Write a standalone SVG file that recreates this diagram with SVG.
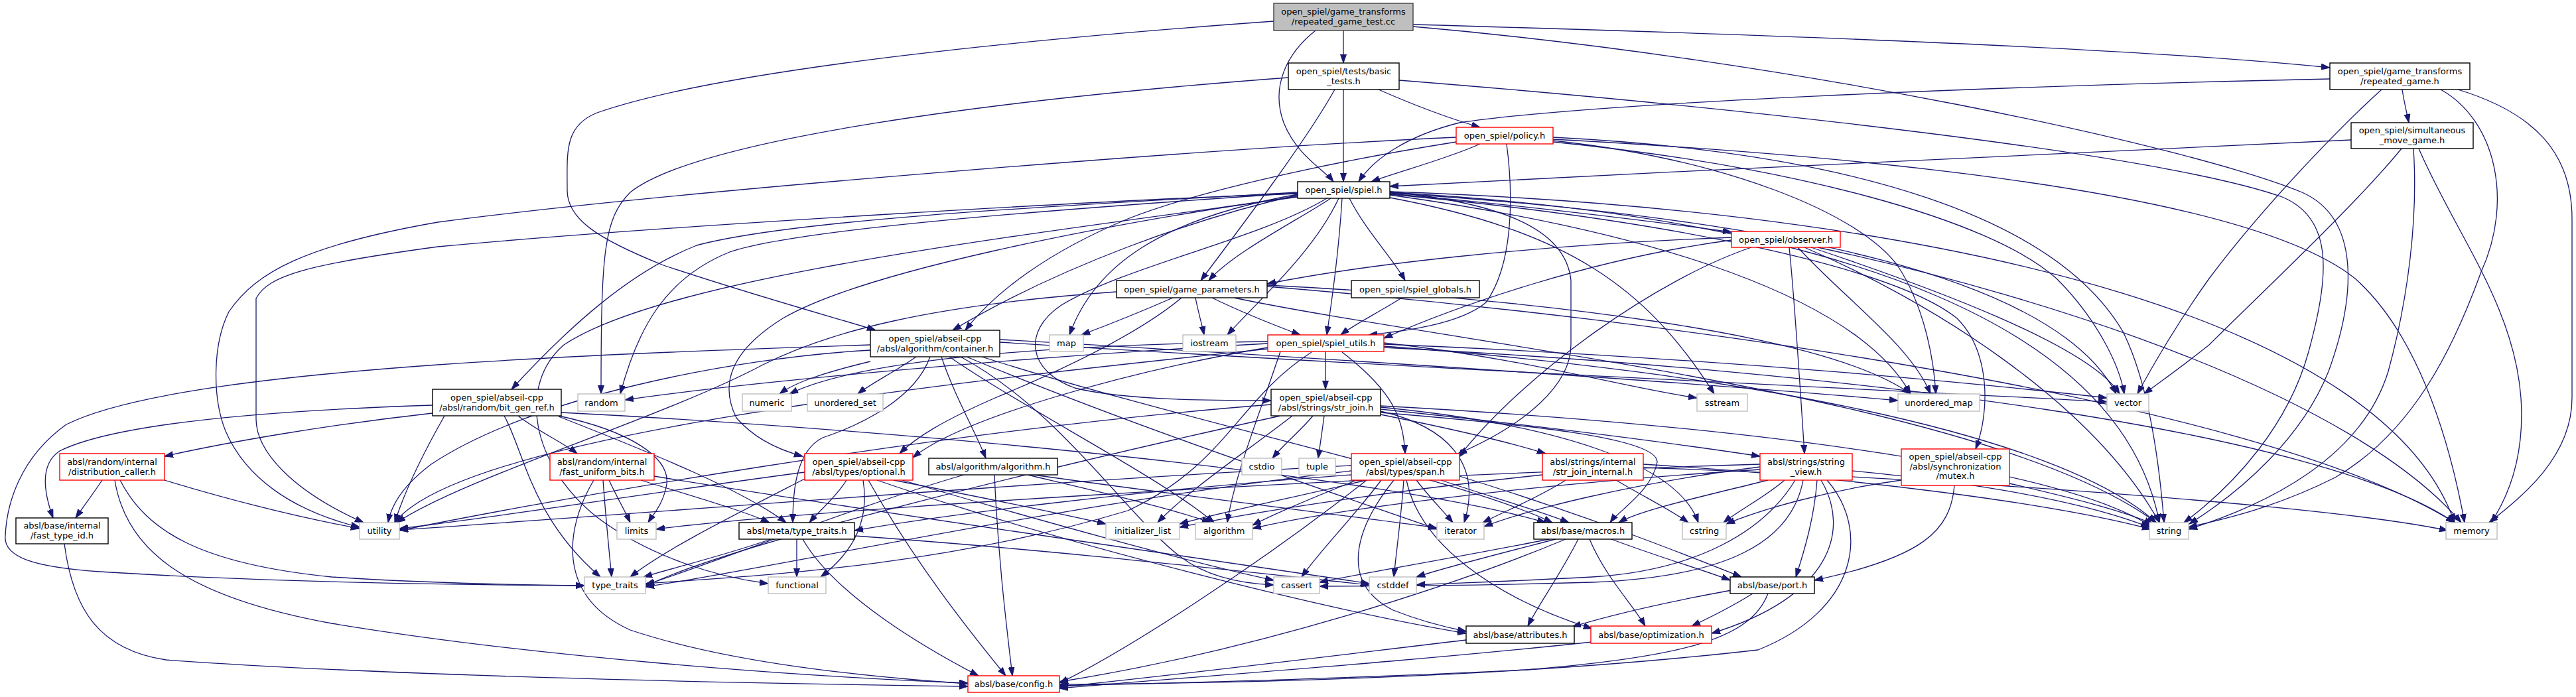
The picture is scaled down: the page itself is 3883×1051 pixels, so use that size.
<svg xmlns="http://www.w3.org/2000/svg" width="3883" height="1051" viewBox="0 0 3883 1051">
<defs>
<marker id="a" markerUnits="userSpaceOnUse" markerWidth="14" markerHeight="11" refX="13" refY="5" orient="auto"><path d="M0,0.5 L13,5 L0,9.5 z" fill="#191970" stroke="#191970" stroke-width="1"/></marker>
<style>
.node rect{fill:#fff;stroke:#000;stroke-width:1.4}
.node rect.r{stroke:#ff0000}
.node rect.g{stroke:#bfbfbf}
.node rect.root{fill:#bfbfbf;stroke:#404040}
.node text{font-family:"DejaVu Sans","Liberation Sans",sans-serif;font-size:13px;text-anchor:middle;fill:#000}
#edges path{fill:none;stroke:#191970;stroke-width:1.3;marker-end:url(#a)}
</style>
</defs>
<rect width="3883" height="1051" fill="#fff"/>
<g id="edges">
<path d="M2025,46 L2025,95"/>
<path d="M1983,46 C1940,80 1915,130 1935,185 C1955,235 1995,255 2010,274"/>
<path d="M2130,37 C2600,50 3200,70 3512,102"/>
<path d="M1920,32 C1600,55 1100,100 900,170 C850,190 855,230 855,287 C855,330 900,360 1000,400 C1150,450 1280,485 1320,498"/>
<path d="M2130,40 C2700,90 3300,220 3470,290 C3560,330 3550,450 3510,560 C3470,660 3380,740 3300,790"/>
<path d="M1942,117 C1500,150 1050,210 950,290 C910,330 906,380 906,594"/>
<path d="M2025,135 L2025,274"/>
<path d="M2078,135 C2130,158 2190,180 2231,192"/>
<path d="M2012,135 C1970,210 1880,330 1810,423"/>
<path d="M2109,121 C2600,160 3250,230 3440,297 C3520,330 3510,420 3480,530 C3450,640 3370,730 3292,788"/>
<path d="M3621,135 C3624,155 3628,170 3631,185"/>
<path d="M3512,119 C3000,130 2400,155 2200,185 C2120,205 2070,240 2048,274"/>
<path d="M3590,135 C3540,180 3420,300 3330,420 C3280,490 3240,560 3222,594"/>
<path d="M3679,135 C3760,180 3790,300 3740,410 C3700,520 3640,650 3520,720 C3420,770 3340,785 3299,795"/>
<path d="M3705,135 C3820,170 3877,230 3877,330 L3877,600 C3877,690 3800,750 3752,788"/>
<path d="M3544,211 C3200,225 2600,255 2095,281"/>
<path d="M3620,224 C3550,310 3400,450 3330,520 C3280,560 3250,580 3232,594"/>
<path d="M3638,224 C3645,330 3630,450 3600,560 C3560,690 3420,760 3299,798"/>
<path d="M3646,224 C3700,350 3790,460 3800,600 C3806,690 3780,750 3755,788"/>
<path d="M2231,217 C2180,240 2110,258 2067,274"/>
<path d="M2271,217 C2282,300 2280,400 2240,456 C2200,490 2110,500 2063,505"/>
<path d="M2195,207 C1800,225 1000,290 660,335 C460,370 386,410 345,470 C320,520 320,600 340,650 C370,720 440,770 542,795"/>
<path d="M2195,214 C2000,245 1800,290 1700,330 C1580,380 1500,440 1455,498"/>
<path d="M2341,207 C2800,230 3100,330 3200,500 C3240,580 3255,700 3262,788"/>
<path d="M2341,210 C2900,240 3400,300 3550,420 C3640,500 3690,650 3715,788"/>
<path d="M2341,212 C2600,240 2800,320 2860,400 C2900,460 2915,540 2918,594"/>
<path d="M2341,214 C2700,250 3000,330 3100,420 C3160,480 3195,550 3202,594"/>
<path d="M2006,299 C1960,330 1860,380 1822,423"/>
<path d="M1956,294 C1800,330 1600,400 1436,498"/>
<path d="M1956,290 C1600,310 1200,330 1050,370 C950,410 860,490 771,587"/>
<path d="M1956,291 C1600,315 1200,345 1100,380 C1000,420 960,500 935,594"/>
<path d="M1956,292 C1700,300 1000,340 660,372 C460,399 404,416 386,450 L386,632 C386,680 440,740 548,788"/>
<path d="M2034,299 C2060,350 2100,390 2118,423"/>
<path d="M2023,299 C2018,380 2008,450 2000,505"/>
<path d="M2095,292 C2300,310 2500,335 2610,350"/>
<path d="M2000,299 C1900,360 1700,400 1600,460 C1540,500 1550,560 1620,585 C1700,605 1850,604 1916,604"/>
<path d="M2095,289 C2250,305 2360,340 2368,423 L2368,520 C2368,580 2300,640 2198,684"/>
<path d="M2095,293 C2500,330 2850,400 2950,480 C3000,530 3000,620 2978,677"/>
<path d="M1956,296 C1650,340 1300,410 1180,480 C1100,530 1085,580 1110,630 C1140,665 1180,680 1210,688"/>
<path d="M1956,293 C1750,330 1650,400 1612,505"/>
<path d="M2018,299 C1980,380 1900,450 1850,505"/>
<path d="M2095,298 C2360,348 2480,430 2584,594"/>
<path d="M2095,294 C2500,350 2800,450 2880,594"/>
<path d="M2095,291 C2700,330 3100,420 3190,594"/>
<path d="M2095,290 C2800,330 3200,500 3255,788"/>
<path d="M2095,289 C3000,320 3600,500 3700,788"/>
<path d="M1956,297 C1500,360 1000,420 850,520 C780,580 800,700 900,780 C980,840 1080,870 1158,880"/>
<path d="M2610,358 C2300,370 2050,400 1910,428"/>
<path d="M2610,362 C2400,390 2200,460 2086,510"/>
<path d="M2640,373 C2500,420 2300,560 2198,690"/>
<path d="M2697,373 C2705,450 2712,560 2720,684"/>
<path d="M2720,373 C2900,450 3150,600 3255,788"/>
<path d="M2740,373 C3100,450 3550,600 3710,788"/>
<path d="M2710,373 C2780,450 2880,520 2910,594"/>
<path d="M2730,373 C2900,430 3150,520 3195,594"/>
<path d="M1768,449 C1720,470 1670,490 1630,505"/>
<path d="M1802,449 C1806,470 1812,490 1815,505"/>
<path d="M1827,449 C1870,470 1920,490 1960,505"/>
<path d="M1781,449 C1720,500 1620,550 1500,600 C1420,635 1380,660 1356,684"/>
<path d="M1860,449 C2200,520 3000,600 3250,788"/>
<path d="M1910,432 C2500,480 3400,600 3700,788"/>
<path d="M1910,430 C2300,450 2750,500 2880,594"/>
<path d="M1683,440 C1400,460 1250,500 1150,550 C1000,630 700,720 598,788"/>
<path d="M2113,449 C2080,470 2040,490 2021,505"/>
<path d="M1419,538 C1440,600 1470,650 1486,691"/>
<path d="M1381,538 C1350,560 1310,580 1293,594"/>
<path d="M1312,545 C1250,560 1200,575 1175,594"/>
<path d="M1312,528 C1100,540 800,600 650,700 C610,730 590,760 585,788"/>
<path d="M1402,538 C1380,600 1300,640 1240,660 C1200,680 1195,740 1195,788"/>
<path d="M1312,520 C1000,530 800,540 660,550 C450,565 200,590 100,640 C30,690 10,760 8,808 C5,840 50,855 150,862 C400,878 700,882 881,883"/>
<path d="M1431,538 C1550,620 1750,720 1830,788"/>
<path d="M1448,538 C1600,620 1700,780 1780,840 C1820,870 1870,880 1920,882"/>
<path d="M1457,538 C1700,640 2000,740 2166,798"/>
<path d="M1480,538 C1800,640 2200,720 2340,788"/>
<path d="M1507,512 C2000,540 2600,580 2861,604"/>
<path d="M1507,516 C2200,560 2900,590 3176,606"/>
<path d="M1998,530 L1998,587"/>
<path d="M2023,531 C2100,590 2115,630 2118,684"/>
<path d="M1911,524 C1700,560 1450,630 1376,690"/>
<path d="M1911,518 C1500,540 1100,580 942,603"/>
<path d="M2086,517 C2300,540 2450,585 2558,600"/>
<path d="M1911,526 C1500,570 700,650 595,788"/>
<path d="M1977,531 C1865,603 1850,700 1700,770 C1400,860 1100,870 973,880"/>
<path d="M1930,530 C1900,620 1860,720 1850,788"/>
<path d="M2086,522 C2600,560 3100,650 3250,788"/>
<path d="M2086,524 C2800,560 3500,650 3700,788"/>
<path d="M2086,519 C2600,540 3000,580 3176,600"/>
<path d="M1911,515 C1600,520 1300,540 1190,594"/>
<path d="M1979,627 C1960,650 1935,670 1918,691"/>
<path d="M1996,627 C1993,650 1990,670 1987,691"/>
<path d="M2081,625 C2180,645 2270,665 2330,684"/>
<path d="M2081,617 C2300,640 2500,665 2653,688"/>
<path d="M1948,627 C1880,680 1790,740 1745,788"/>
<path d="M2081,620 C2182,643 2235,700 2207,788"/>
<path d="M2081,622 C2300,640 2500,660 2498,697 C2490,740 2440,770 2427,788"/>
<path d="M2081,614 C2350,640 2530,700 2560,788"/>
<path d="M2081,612 C2600,640 3100,700 3245,795"/>
<path d="M1930,627 C1600,700 1100,820 973,884"/>
<path d="M1916,610 C1400,650 800,760 602,800"/>
<path d="M652,623 C500,640 350,665 248,688"/>
<path d="M652,611 C380,620 170,640 90,680 C60,700 65,740 80,781"/>
<path d="M781,627 C810,650 850,668 870,684"/>
<path d="M842,627 C950,650 1010,690 1005,730 C1000,760 985,775 977,788"/>
<path d="M842,628 C1000,690 1120,740 1185,788"/>
<path d="M760,627 C790,680 800,780 905,870"/>
<path d="M670,627 C640,680 610,740 595,788"/>
<path d="M846,622 C1400,650 2100,720 2330,788"/>
<path d="M154,724 C140,745 125,765 114,781"/>
<path d="M248,724 C350,755 450,780 542,797"/>
<path d="M181,724 C220,800 300,850 500,870 C650,880 780,882 881,883"/>
<path d="M173,724 C190,830 280,900 500,940 C800,990 1200,1020 1459,1030"/>
<path d="M918,724 C930,750 942,770 950,788"/>
<path d="M909,724 C913,780 918,830 922,870"/>
<path d="M966,724 C1050,750 1120,770 1160,788"/>
<path d="M895,724 C850,800 840,900 950,950 C1100,1000 1300,1020 1459,1031"/>
<path d="M986,718 C1300,770 1800,840 2064,880"/>
<path d="M1276,724 C1260,750 1235,770 1220,788"/>
<path d="M1213,722 C1100,780 1000,830 950,870"/>
<path d="M1301,724 C1310,780 1290,830 1237,870"/>
<path d="M1213,712 C1000,740 750,780 602,797"/>
<path d="M1347,724 C1480,750 1600,775 1667,790"/>
<path d="M1360,724 C1550,780 1800,850 1920,875"/>
<path d="M1322,724 C1600,820 2000,920 2210,955"/>
<path d="M1309,724 C1380,850 1460,950 1516,1019"/>
<path d="M1549,716 C1650,740 1760,765 1825,788"/>
<path d="M1558,716 C1800,750 2050,780 2166,796"/>
<path d="M1499,716 C1505,850 1518,950 1526,1019"/>
<path d="M1453,716 C1300,760 1100,840 973,882"/>
<path d="M2135,724 C2155,750 2175,770 2190,788"/>
<path d="M2172,724 C2250,750 2320,770 2365,788"/>
<path d="M2082,724 C2040,780 1990,830 1962,870"/>
<path d="M2116,724 C2112,780 2105,830 2101,870"/>
<path d="M2101,724 C2040,800 2020,880 2100,920 C2150,940 2190,948 2210,952"/>
<path d="M2120,724 C2140,820 2250,900 2400,948"/>
<path d="M2037,702 C1500,730 900,780 602,799"/>
<path d="M2037,710 C1600,760 1200,850 973,885"/>
<path d="M2060,724 C1950,750 1830,775 1778,790"/>
<path d="M2045,724 C1980,750 1920,775 1888,792"/>
<path d="M2037,716 C1700,740 1400,780 1288,800"/>
<path d="M2200,718 C2400,780 2550,840 2625,870"/>
<path d="M2060,724 C1900,850 1700,980 1597,1030"/>
<path d="M2360,724 C2320,750 2270,770 2235,788"/>
<path d="M2436,724 C2480,750 2520,770 2545,788"/>
<path d="M2477,700 C2800,720 3100,760 3242,798"/>
<path d="M2477,705 C2900,720 3500,760 3690,800"/>
<path d="M2325,716 C2100,740 1900,770 1778,795"/>
<path d="M2690,724 C2660,750 2620,770 2598,788"/>
<path d="M2739,724 C2735,780 2720,830 2707,870"/>
<path d="M2745,724 C2790,800 2760,900 2580,955"/>
<path d="M2754,724 C2820,800 2800,920 2650,980 C2300,1020 1900,1030 1597,1032"/>
<path d="M2665,724 C2560,750 2470,770 2440,788"/>
<path d="M2653,704 C2450,730 2300,770 2237,794"/>
<path d="M2792,710 C3000,730 3150,760 3240,795"/>
<path d="M2718,724 C2700,820 2600,870 2400,878 C2200,884 2050,884 1989,884"/>
<path d="M2706,724 C2660,800 2560,860 2400,870 C2250,878 2170,880 2135,882"/>
<path d="M2653,700 C2000,720 1200,770 989,798"/>
<path d="M2653,708 C2300,730 2000,770 1888,797"/>
<path d="M2946,732 C2940,800 2900,840 2735,875"/>
<path d="M3029,729 C3120,750 3200,770 3245,790"/>
<path d="M2866,724 C2750,740 2650,770 2602,790"/>
<path d="M97,820 C110,920 150,980 250,995 C600,1020 1100,1030 1459,1035"/>
<path d="M1162,813 C1100,835 1020,855 970,870"/>
<path d="M1201,813 L1201,870"/>
<path d="M1210,813 C1260,900 1400,980 1475,1019"/>
<path d="M1288,808 C1600,830 1900,865 2064,882"/>
<path d="M2335,813 C2200,840 2050,865 1989,878"/>
<path d="M2345,813 C2260,835 2180,855 2135,870"/>
<path d="M2360,813 C2200,880 1900,980 1597,1028"/>
<path d="M2379,813 C2350,870 2320,910 2303,944"/>
<path d="M2396,813 C2420,870 2460,910 2480,944"/>
<path d="M2429,813 C2500,840 2570,860 2608,875"/>
<path d="M2610,890 C2500,910 2420,930 2370,945"/>
<path d="M2642,895 C2610,915 2580,930 2550,944"/>
<path d="M2665,895 C2640,960 2550,990 2300,1010 C2000,1025 1750,1030 1597,1034"/>
<path d="M2210,965 C2000,990 1800,1015 1597,1036"/>
<path d="M2400,968 C2100,1000 1800,1020 1597,1038"/>
</g>
<g id="n1" class="node"><rect class="root" x="1920" y="5" width="210" height="41"/><text x="2025" y="22">open_spiel/game_transforms</text><text x="2025" y="37">/repeated_game_test.cc</text></g>
<g id="n2" class="node"><rect x="1942" y="95" width="167" height="40"/><text x="2025.5" y="111.5">open_spiel/tests/basic</text><text x="2025.5" y="126.5">_tests.h</text></g>
<g id="n3" class="node"><rect x="3512" y="95" width="211" height="40"/><text x="3617.5" y="111.5">open_spiel/game_transforms</text><text x="3617.5" y="126.5">/repeated_game.h</text></g>
<g id="n4" class="node"><rect class="r" x="2195" y="192" width="146" height="25"/><text x="2268" y="209">open_spiel/policy.h</text></g>
<g id="n5" class="node"><rect x="3544" y="185" width="184" height="39"/><text x="3636" y="201">open_spiel/simultaneous</text><text x="3636" y="216">_move_game.h</text></g>
<g id="n6" class="node"><rect x="1956" y="274" width="139" height="25"/><text x="2025.5" y="291">open_spiel/spiel.h</text></g>
<g id="n7" class="node"><rect class="r" x="2610" y="349" width="164" height="24"/><text x="2692" y="365.5">open_spiel/observer.h</text></g>
<g id="n8" class="node"><rect x="1683" y="423" width="227" height="26"/><text x="1796.5" y="440.5">open_spiel/game_parameters.h</text></g>
<g id="n9" class="node"><rect x="2037" y="423" width="193" height="26"/><text x="2133.5" y="440.5">open_spiel/spiel_globals.h</text></g>
<g id="n10" class="node"><rect x="1312" y="498" width="195" height="40"/><text x="1409.5" y="514.5">open_spiel/abseil-cpp</text><text x="1409.5" y="529.5">/absl/algorithm/container.h</text></g>
<g id="n11" class="node"><rect class="r" x="1911" y="505" width="175" height="25"/><text x="1998.5" y="522">open_spiel/spiel_utils.h</text></g>
<g id="n12" class="node"><rect class="g" x="1582" y="505" width="51" height="25"/><text x="1607.5" y="522">map</text></g>
<g id="n13" class="node"><rect class="g" x="1783" y="505" width="80" height="25"/><text x="1823" y="522">iostream</text></g>
<g id="n14" class="node"><rect x="652" y="587" width="194" height="40"/><text x="749" y="603.5">open_spiel/abseil-cpp</text><text x="749" y="618.5">/absl/random/bit_gen_ref.h</text></g>
<g id="n15" class="node"><rect class="g" x="871" y="594" width="71" height="26"/><text x="906.5" y="611.5">random</text></g>
<g id="n16" class="node"><rect class="g" x="1119" y="594" width="74" height="26"/><text x="1156" y="611.5">numeric</text></g>
<g id="n17" class="node"><rect class="g" x="1217" y="594" width="114" height="26"/><text x="1274" y="611.5">unordered_set</text></g>
<g id="n18" class="node"><rect x="1916" y="587" width="165" height="40"/><text x="1998.5" y="603.5">open_spiel/abseil-cpp</text><text x="1998.5" y="618.5">/absl/strings/str_join.h</text></g>
<g id="n19" class="node"><rect class="g" x="2558" y="594" width="76" height="26"/><text x="2596" y="611.5">sstream</text></g>
<g id="n20" class="node"><rect class="g" x="2861" y="594" width="123" height="26"/><text x="2922.5" y="611.5">unordered_map</text></g>
<g id="n21" class="node"><rect class="g" x="3176" y="594" width="63" height="26"/><text x="3207.5" y="611.5">vector</text></g>
<g id="n22" class="node"><rect class="r" x="90" y="684" width="158" height="40"/><text x="169" y="700.5">absl/random/internal</text><text x="169" y="715.5">/distribution_caller.h</text></g>
<g id="n23" class="node"><rect class="r" x="829" y="684" width="157" height="40"/><text x="907.5" y="700.5">absl/random/internal</text><text x="907.5" y="715.5">/fast_uniform_bits.h</text></g>
<g id="n24" class="node"><rect class="r" x="1213" y="684" width="163" height="40"/><text x="1294.5" y="700.5">open_spiel/abseil-cpp</text><text x="1294.5" y="715.5">/absl/types/optional.h</text></g>
<g id="n25" class="node"><rect x="1400" y="691" width="194" height="25"/><text x="1497" y="708">absl/algorithm/algorithm.h</text></g>
<g id="n26" class="node"><rect class="g" x="1872" y="691" width="60" height="25"/><text x="1902" y="708">cstdio</text></g>
<g id="n27" class="node"><rect class="g" x="1958" y="691" width="55" height="25"/><text x="1985.5" y="708">tuple</text></g>
<g id="n28" class="node"><rect class="r" x="2037" y="684" width="163" height="40"/><text x="2118.5" y="700.5">open_spiel/abseil-cpp</text><text x="2118.5" y="715.5">/absl/types/span.h</text></g>
<g id="n29" class="node"><rect class="r" x="2325" y="684" width="152" height="40"/><text x="2401" y="700.5">absl/strings/internal</text><text x="2401" y="715.5">/str_join_internal.h</text></g>
<g id="n30" class="node"><rect class="r" x="2653" y="684" width="139" height="40"/><text x="2722.5" y="700.5">absl/strings/string</text><text x="2722.5" y="715.5">_view.h</text></g>
<g id="n31" class="node"><rect class="r" x="2866" y="677" width="163" height="55"/><text x="2947.5" y="693">open_spiel/abseil-cpp</text><text x="2947.5" y="707.5">/absl/synchronization</text><text x="2947.5" y="722">/mutex.h</text></g>
<g id="n32" class="node"><rect x="24" y="781" width="139" height="39"/><text x="93.5" y="797">absl/base/internal</text><text x="93.5" y="812">/fast_type_id.h</text></g>
<g id="n33" class="node"><rect class="g" x="542" y="788" width="60" height="25"/><text x="572" y="805">utility</text></g>
<g id="n34" class="node"><rect class="g" x="930" y="788" width="59" height="25"/><text x="959.5" y="805">limits</text></g>
<g id="n35" class="node"><rect x="1114" y="788" width="174" height="25"/><text x="1201" y="805">absl/meta/type_traits.h</text></g>
<g id="n36" class="node"><rect class="g" x="1667" y="788" width="111" height="25"/><text x="1722.5" y="805">initializer_list</text></g>
<g id="n37" class="node"><rect class="g" x="1802" y="788" width="86" height="25"/><text x="1845" y="805">algorithm</text></g>
<g id="n38" class="node"><rect class="g" x="2166" y="788" width="71" height="25"/><text x="2201.5" y="805">iterator</text></g>
<g id="n39" class="node"><rect x="2312" y="788" width="148" height="25"/><text x="2386" y="805">absl/base/macros.h</text></g>
<g id="n40" class="node"><rect class="g" x="2536" y="788" width="66" height="25"/><text x="2569" y="805">cstring</text></g>
<g id="n41" class="node"><rect class="g" x="3240" y="788" width="59" height="25"/><text x="3269.5" y="805">string</text></g>
<g id="n42" class="node"><rect class="g" x="3687" y="788" width="77" height="25"/><text x="3725.5" y="805">memory</text></g>
<g id="n43" class="node"><rect class="g" x="881" y="870" width="92" height="25"/><text x="927" y="887">type_traits</text></g>
<g id="n44" class="node"><rect class="g" x="1158" y="870" width="87" height="25"/><text x="1201.5" y="887">functional</text></g>
<g id="n45" class="node"><rect class="g" x="1920" y="870" width="69" height="25"/><text x="1954.5" y="887">cassert</text></g>
<g id="n46" class="node"><rect class="g" x="2064" y="870" width="71" height="25"/><text x="2099.5" y="887">cstddef</text></g>
<g id="n47" class="node"><rect x="2608" y="870" width="127" height="25"/><text x="2671.5" y="887">absl/base/port.h</text></g>
<g id="n48" class="node"><rect x="2210" y="944" width="163" height="26"/><text x="2291.5" y="961.5">absl/base/attributes.h</text></g>
<g id="n49" class="node"><rect class="r" x="2398" y="944" width="182" height="26"/><text x="2489" y="961.5">absl/base/optimization.h</text></g>
<g id="n50" class="node"><rect class="r" x="1459" y="1019" width="138" height="25"/><text x="1528" y="1036">absl/base/config.h</text></g>
</svg>
